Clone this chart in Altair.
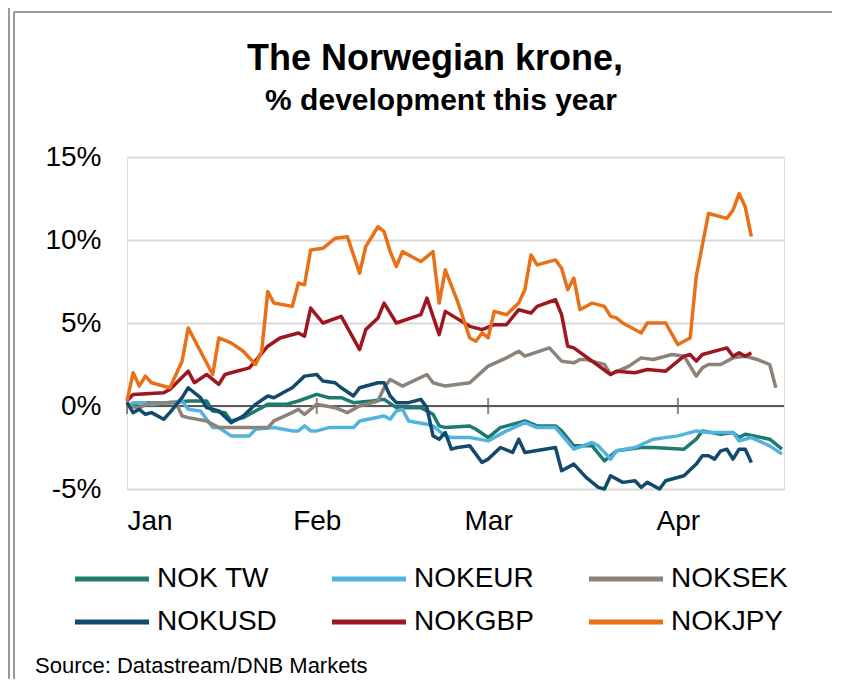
import altair as alt
import pandas as pd

# ---------------- data ----------------
SERIES = ["NOK TW", "NOKEUR", "NOKSEK", "NOKUSD", "NOKGBP", "NOKJPY"]
COLORS = ["#1e7a6e", "#52b3e0", "#8c8278", "#124a6e", "#9e1620", "#e97016"]

# days since 1 January, % change year to date
TW_DAYS = [0, 2, 7, 10, 13, 14, 16, 17, 19, 21, 23, 26, 28, 31, 33, 35, 37, 40, 42, 44,
           48, 50, 51, 52, 56, 57, 59, 61, 64, 65, 67, 70, 71, 73, 76, 78, 80, 84, 86, 91,
           93, 94, 97, 99, 100, 101, 105, 107]
TW_VALUES = [0.0, 0.2, 0.2, 0.3, 0.3, -0.3, -0.4, -0.9, -0.7, -0.3, 0.1, 0.1, 0.3, 0.7, 0.5, 0.5, 0.2, 0.3, 0.4, -0.1,
             -0.1, -0.5, -1.2, -1.3, -1.2, -1.4, -1.9, -1.3, -1.0, -0.9, -1.2, -1.2, -1.5, -2.4, -2.4, -3.3, -2.7, -2.5, -2.5, -2.6,
             -2.0, -1.5, -1.7, -1.6, -1.9, -1.7, -2.0, -2.6]

EUR_DAYS = [0, 1, 3, 4, 9, 10, 12, 14, 15, 17, 20, 21, 24, 27, 28, 29, 30, 31, 33, 37,
            38, 42, 43, 44, 45, 46, 49, 50, 52, 53, 56, 59, 62, 65, 67, 70, 73, 76, 77, 79,
            80, 83, 86, 90, 93, 95, 99, 100, 102, 105, 107]
EUR_VALUES = [0.0, 0.2, 0.2, 0.1, 0.3, -0.2, -0.3, -1.3, -1.3, -1.8, -1.8, -1.4, -1.3, -1.5, -1.5, -1.2, -1.5, -1.5, -1.3, -1.3,
              -0.9, -0.6, -0.8, -0.3, -0.2, -0.9, -1.1, -1.2, -1.8, -1.9, -1.9, -2.1, -1.5, -1.0, -1.3, -1.3, -2.6, -2.2, -2.4, -3.2,
              -2.7, -2.5, -2.0, -1.8, -1.5, -1.6, -1.6, -2.1, -1.9, -2.4, -2.9]

SEK_DAYS = [0, 2, 4, 8, 9, 10, 13, 15, 19, 23, 24, 27, 28, 29, 31, 34, 36, 38, 41, 42,
            43, 45, 49, 50, 52, 56, 59, 62, 64, 65, 69, 71, 73, 74, 75, 77, 78, 79, 82, 84,
            86, 89, 91, 93, 94, 95, 97, 99, 101, 103, 105, 106]
SEK_VALUES = [0.0, -0.1, 0.2, 0.2, -0.6, -0.7, -0.9, -1.3, -1.3, -1.3, -0.9, -0.4, -0.2, -0.5, 0.1, -0.1, -0.4, 0.0, 0.3, 1.1,
              1.6, 1.2, 1.9, 1.4, 1.2, 1.4, 2.4, 2.9, 3.3, 3.0, 3.5, 2.7, 2.6, 2.8, 2.8, 2.6, 2.5, 1.9, 2.4, 2.9,
              2.8, 3.1, 3.0, 1.8, 2.3, 2.5, 2.5, 2.9, 3.0, 2.8, 2.5, 1.1]

USD_DAYS = [0, 1, 2, 3, 4, 6, 7, 9, 10, 12, 13, 15, 17, 19, 21, 23, 24, 26, 27, 29,
            31, 32, 34, 35, 37, 38, 41, 42, 43, 44, 46, 48, 49, 50, 51, 52, 53, 54, 56, 57,
            58, 59, 61, 63, 64, 65, 70, 71, 73, 75, 77, 78, 79, 81, 83, 84, 85, 87, 88, 91,
            93, 94, 95, 96, 97, 98, 99, 100, 101, 102]
USD_VALUES = [0.2, -0.4, -0.2, -0.5, -0.4, -0.8, -0.4, 0.5, 1.1, 0.5, -0.1, -0.3, -1.0, -0.6, 0.1, 0.6, 0.5, 0.9, 1.1, 1.8,
              1.9, 1.5, 1.4, 1.1, 0.6, 1.1, 1.4, 1.4, 0.6, 0.2, 0.2, 0.4, -0.1, -1.8, -2.0, -1.6, -2.6, -2.5, -2.4, -2.9,
              -3.4, -3.2, -2.5, -2.8, -2.0, -2.8, -2.5, -3.9, -3.5, -4.3, -4.9, -5.0, -4.2, -4.6, -4.5, -4.9, -4.6, -5.0, -4.5, -4.2,
              -3.5, -3.0, -3.0, -3.2, -2.7, -2.6, -3.2, -2.6, -2.6, -3.4]

GBP_DAYS = [0, 1, 6, 7, 10, 11, 13, 15, 16, 17, 20, 23, 25, 28, 29, 30, 32, 35, 38, 39,
            41, 42, 44, 48, 49, 51, 52, 56, 58, 60, 62, 64, 66, 67, 70, 71, 72, 73, 79, 80,
            83, 85, 88, 91, 92, 93, 94, 98, 99, 100, 101, 102]
GBP_VALUES = [0.3, 0.7, 0.8, 1.0, 2.1, 1.4, 1.9, 1.3, 1.9, 2.0, 2.3, 3.6, 4.1, 4.4, 4.2, 5.9, 5.0, 5.4, 3.4, 4.6,
              5.3, 6.2, 5.0, 5.5, 6.5, 4.3, 5.7, 4.8, 4.6, 4.9, 4.9, 5.8, 5.6, 6.0, 6.4, 5.5, 3.6, 3.5, 1.9, 2.1,
              2.0, 2.2, 2.1, 3.0, 3.1, 2.7, 3.1, 3.5, 3.0, 3.2, 3.0, 3.2]

JPY_DAYS = [0, 1, 2, 3, 4, 7, 9, 10, 14, 15, 17, 19, 21, 22, 23, 24, 27, 28, 29, 30,
            32, 34, 36, 38, 39, 41, 42, 43, 44, 45, 48, 50, 51, 52, 54, 56, 57, 58, 59, 60,
            62, 64, 65, 66, 67, 70, 71, 72, 73, 74, 76, 78, 79, 80, 81, 84, 85, 88, 90, 92,
            93, 95, 98, 99, 100, 101, 102]
JPY_VALUES = [0.3, 2.0, 1.2, 1.8, 1.4, 1.1, 2.7, 4.7, 1.9, 4.1, 3.8, 3.3, 2.5, 3.3, 6.9, 6.2, 6.0, 7.4, 7.3, 9.4,
              9.5, 10.1, 10.2, 8.0, 9.6, 10.8, 10.5, 9.3, 8.4, 9.3, 8.7, 9.3, 6.2, 8.2, 6.3, 4.1, 3.9, 4.4, 4.1, 5.7,
              5.5, 6.2, 7.0, 9.1, 8.5, 8.8, 8.3, 7.0, 7.7, 5.8, 6.2, 6.0, 5.4, 5.3, 5.0, 4.4, 5.0, 5.0, 3.7, 4.1,
              7.8, 11.6, 11.3, 11.8, 12.8, 12.0, 10.2]

MONTH_START_DAYS = [0, 31, 59, 90]
Y_TICKS = [-5, 0, 5, 10, 15]
TITLE = "The Norwegian krone,"
SUBTITLE = "% development this year"
SOURCE = "Source:  Datastream/DNB Markets"

# ---------------- build tables ----------------
START = pd.Timestamp("2022-01-01")


def to_dates(days):
    return [(START + pd.Timedelta(days=d)).strftime("%Y-%m-%d") for d in days]


ALL_DAYS = [TW_DAYS, EUR_DAYS, SEK_DAYS, USD_DAYS, GBP_DAYS, JPY_DAYS]
ALL_VALUES = [TW_VALUES, EUR_VALUES, SEK_VALUES, USD_VALUES, GBP_VALUES, JPY_VALUES]
df = pd.concat(
    [pd.DataFrame({"date": to_dates(d), "value": v, "series": s})
     for s, d, v in zip(SERIES, ALL_DAYS, ALL_VALUES)],
    ignore_index=True,
)
months = pd.DataFrame({"date": to_dates(MONTH_START_DAYS)})

FONT = "Liberation Sans"
AXIS_GREY = "#595959"


def dt(m, d, h=0):
    return alt.DateTime(year=2022, month=m, date=d, hours=h, utc=True)


x_enc = alt.X(
    "date:T",
    scale=alt.Scale(type="utc", domain=[dt(1, 1), dt(4, 18, 8)]),
    axis=alt.Axis(values=[dt(1, 1), dt(2, 1), dt(3, 1), dt(4, 1)], format="%b",
                  labelFontSize=28, labelFont=FONT, labelColor="black",
                  labelPadding=18, ticks=False, domain=False, grid=False, title=None),
)
y_enc = alt.Y(
    "value:Q",
    scale=alt.Scale(domain=[-5, 15], nice=False, zero=False),
    axis=alt.Axis(values=Y_TICKS, labelExpr="datum.value + '%'",
                  labelFontSize=28, labelFont=FONT, labelColor="black",
                  labelPadding=26, ticks=False, domain=False, grid=True,
                  gridColor="#d9d9d9", gridWidth=2, title=None),
)
color_enc = alt.Color(
    "series:N",
    scale=alt.Scale(domain=SERIES, range=COLORS),
    legend=alt.Legend(title=None, orient="none", direction="horizontal",
                      legendX=-29, legendY=408, columns=3,
                      symbolType="M-4,0H4", symbolSize=342,
                      symbolStrokeWidth=5, labelFontSize=28, labelFont=FONT,
                      labelColor="black", columnPadding=45, rowPadding=15,
                      labelOffset=31),
)

zero_rule = alt.Chart(df).mark_rule(color=AXIS_GREY, strokeWidth=2).encode(y=alt.datum(0))
month_ticks = alt.Chart(months).mark_tick(
    color=AXIS_GREY, thickness=2, size=16, orient="vertical"
).encode(x="date:T", y=alt.datum(0))

line_layers = [
    alt.Chart(df).transform_filter(alt.datum.series == s).mark_line(
        strokeWidth=3.5, strokeJoin="round"
    ).encode(x=x_enc, y=y_enc, color=color_enc)
    for s in SERIES
]

text_data = pd.DataFrame({"title": [TITLE], "subtitle": [SUBTITLE], "source": [SOURCE]})
title_mark = alt.Chart(text_data).mark_text(
    align="center", baseline="alphabetic", fontSize=36, fontWeight="bold",
    font=FONT, color="black"
).encode(x=alt.value(308), y=alt.value(-87), text="title:N")
subtitle_mark = alt.Chart(text_data).mark_text(
    align="center", baseline="alphabetic", fontSize=30, fontWeight="bold",
    font=FONT, color="black"
).encode(x=alt.value(314), y=alt.value(-47), text="subtitle:N")
source_mark = alt.Chart(text_data).mark_text(
    align="left", baseline="middle", fontSize=22, font=FONT, color="black"
).encode(x=alt.value(-92), y=alt.value(509), text="source:N")

frame_data = pd.DataFrame({"k": [0]})
frame_top = alt.Chart(frame_data).mark_rule(color="#9a9a9a", strokeWidth=2).encode(
    x=alt.value(-113), x2=alt.value(720), y=alt.value(-145), y2=alt.value(-145))
frame_left = alt.Chart(frame_data).mark_rule(color="#9a9a9a", strokeWidth=2).encode(
    x=alt.value(-113), x2=alt.value(-113), y=alt.value(-145), y2=alt.value(540))
frame_outer = alt.Chart(frame_data).mark_rule(color="#9a9a9a", strokeWidth=2).encode(
    x=alt.value(-118), x2=alt.value(-118), y=alt.value(-160), y2=alt.value(540))

chart = alt.layer(
    zero_rule, month_ticks, *line_layers, title_mark, subtitle_mark, source_mark,
    frame_top, frame_left, frame_outer,
).properties(
    width=657,
    height=332,
    padding={"left": 119, "top": 149, "right": 48, "bottom": 190},
    autosize=alt.AutoSizeParams(type="none"),
).configure_view(stroke=None).configure(background="white")

chart.save("out.html", embed_options={"renderer": "svg", "actions": False})
